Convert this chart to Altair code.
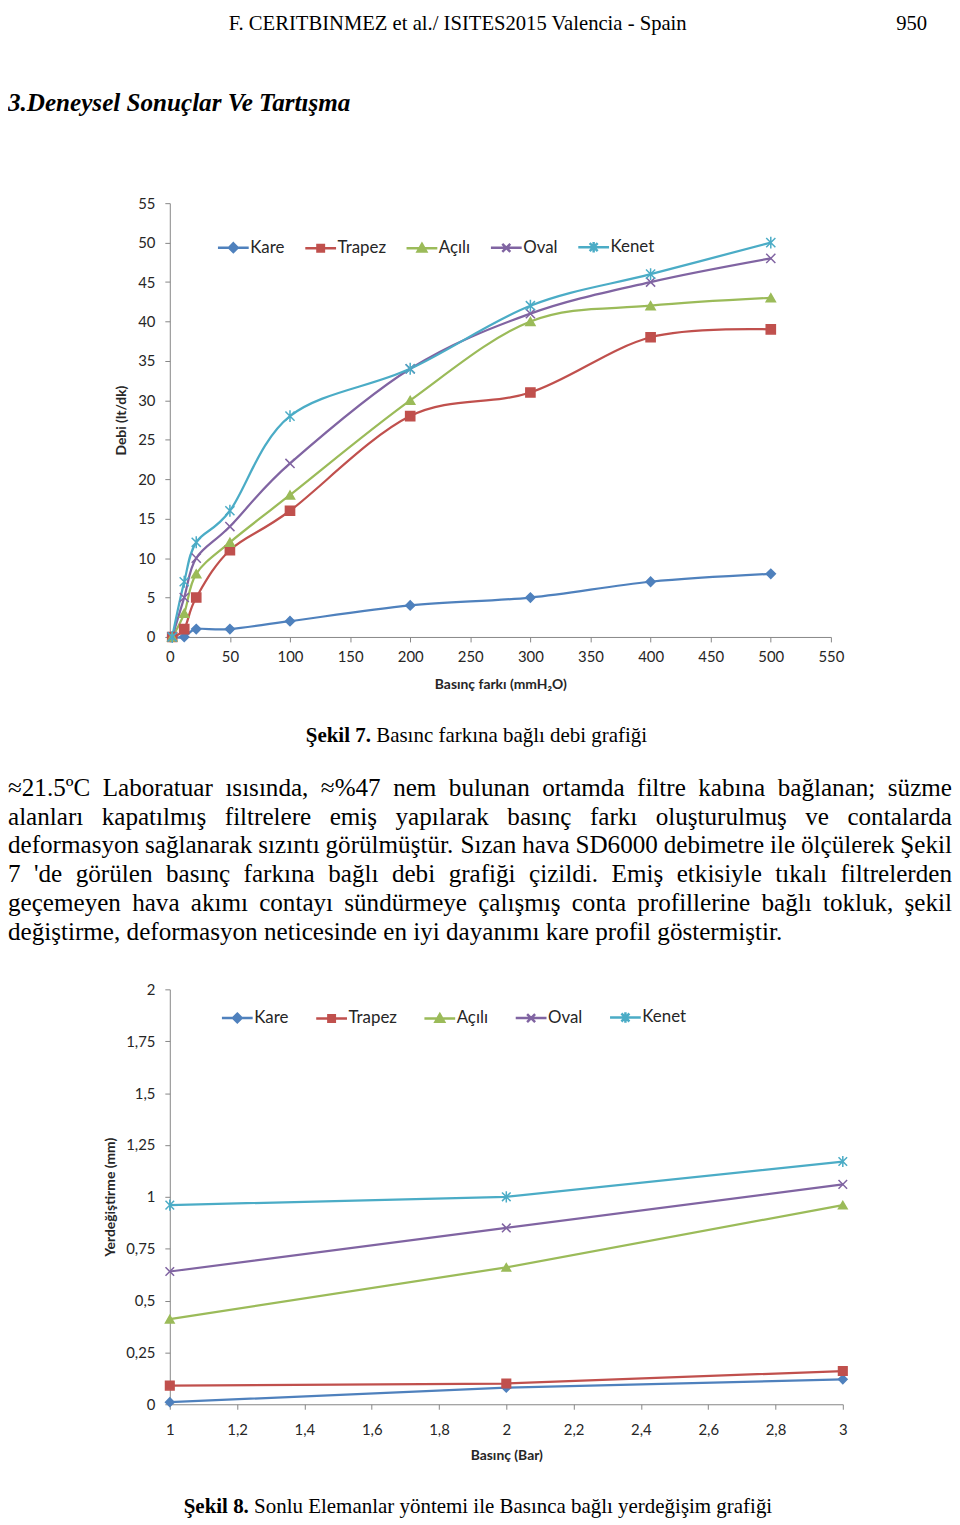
import altair as alt
import pandas as pd

# ---------------- data ----------------
series = ["Kare", "Trapez", "Açılı", "Oval", "Kenet"]
colors = ["#4F81BD", "#C0504D", "#9BBB59", "#8064A2", "#4BACC6"]

fig7_x = [2, 12, 22, 50, 100, 200, 300, 400, 500]
fig7_kare = [0, 0, 1, 1, 2, 4, 5, 7, 8]
fig7_trapez = [0, 1, 5, 11, 16, 28, 31, 38, 39]
fig7_acili = [0, 3, 8, 12, 18, 30, 40, 42, 43]
fig7_oval = [0, 5, 10, 14, 22, 34, 41, 45, 48]
fig7_kenet = [0, 7, 12, 16, 28, 34, 42, 46, 50]

fig8_x = [1, 2, 3]
fig8_kare = [0.01, 0.08, 0.12]
fig8_trapez = [0.09, 0.10, 0.16]
fig8_acili = [0.41, 0.66, 0.96]
fig8_oval = [0.64, 0.85, 1.06]
fig8_kenet = [0.96, 1.00, 1.17]

fig7_xticks = [0, 50, 100, 150, 200, 250, 300, 350, 400, 450, 500, 550]
fig7_yticks = [0, 5, 10, 15, 20, 25, 30, 35, 40, 45, 50, 55]
fig8_xticks = [1, 1.2, 1.4, 1.6, 1.8, 2, 2.2, 2.4, 2.6, 2.8, 3]
fig8_yticks = [0, 0.25, 0.5, 0.75, 1, 1.25, 1.5, 1.75, 2]

header_text = "F. CERITBINMEZ et al./ ISITES2015 Valencia - Spain"
page_number = "950"
section_title = "3.Deneysel Sonuçlar Ve Tartışma"
cap7_bold = "Şekil 7."
cap7_text = "Basınc farkına bağlı debi grafiği"
cap8_bold = "Şekil 8."
cap8_text = "Sonlu Elemanlar yöntemi ile Basınca bağlı yerdeğişim grafiği"
paragraph_lines = [
    "≈21.5ºC Laboratuar ısısında, ≈%47 nem bulunan ortamda filtre kabına bağlanan; süzme",
    "alanları kapatılmış filtrelere emiş yapılarak basınç farkı oluşturulmuş ve contalarda",
    "deformasyon sağlanarak sızıntı görülmüştür. Sızan hava SD6000 debimetre ile ölçülerek Şekil",
    "7 'de görülen basınç farkına bağlı debi grafiği çizildi. Emiş etkisiyle tıkalı filtrelerden",
    "geçemeyen hava akımı contayı sündürmeye çalışmış conta profillerine bağlı tokluk, şekil",
    "değiştirme, deformasyon neticesinde en iyi dayanımı kare profil göstermiştir.",
]

# ---------------- text metrics (Times-compatible widths / 1000 em) ----------------
TIMES = {}
for ch, w in zip("abcdefghijklmnopqrstuvwxyz",
                 [444, 500, 444, 500, 444, 333, 500, 500, 278, 278, 500, 278, 778,
                  500, 500, 500, 500, 333, 389, 278, 500, 500, 722, 500, 500, 444]):
    TIMES[ch] = w
for ch, w in zip("ABCDEFGHIJKLMNOPQRSTUVWXYZ",
                 [722, 667, 667, 722, 611, 556, 722, 722, 333, 389, 722, 611, 889,
                  722, 722, 556, 722, 667, 556, 611, 722, 722, 944, 722, 722, 611]):
    TIMES[ch] = w
for ch in "0123456789":
    TIMES[ch] = 500
TIMES.update({" ": 250, ".": 250, ",": 250, ";": 278, ":": 278, "'": 180, "%": 833,
              "≈": 549, "º": 310, "(": 333, ")": 333, "-": 333, "/": 278,
              "ı": 278, "ş": 389, "Ş": 556, "ğ": 500, "ç": 444, "Ç": 667,
              "ü": 500, "ö": 500, "İ": 333})
TIMES_BOLD = {"Ş": 556, "e": 444, "k": 556, "i": 278, "l": 278, " ": 250, ".": 250}


def text_width(s, fs, table=TIMES):
    return sum(table.get(c, 500) for c in s) * fs / 1000.0


# page positions of the figures' plot origins
O7 = (171, 199)
O8 = (171, 990)

PARA_FS = 25.3
CAP_FS = 21.1
HEAD_FS = 20.8
para_left, para_right = 8, 959
para_base0, para_step = 796, 29

word_rows = []
for i, line in enumerate(paragraph_lines):
    words = line.split(" ")
    widths = [text_width(w, PARA_FS) for w in words]
    if i < len(paragraph_lines) - 1:
        gap = (para_right - para_left - sum(widths)) / (len(words) - 1)
    else:
        gap = text_width(" ", PARA_FS)
    x = para_left
    for w, wd in zip(words, widths):
        word_rows.append({"t": w, "px": x - O7[0], "py": para_base0 + para_step * i - O7[1]})
        x += wd + gap
words_df = pd.DataFrame(word_rows)

bold_w = text_width(cap7_bold, CAP_FS, TIMES_BOLD)
space_cap = text_width(" ", CAP_FS)

cap7_x, cap7_base = 308, 742
cap8_x, cap8_base = 185, 1518

small7_df = pd.DataFrame([{"t": cap7_text, "px": cap7_x + bold_w + space_cap - O7[0],
                           "py": cap7_base - O7[1]}])
bold7_df = pd.DataFrame([{"t": cap7_bold, "px": cap7_x - O7[0], "py": cap7_base - O7[1]}])
header_df = pd.DataFrame([{"t": header_text, "px": 461 - O7[0], "py": 25 - O7[1]}])
pagenum_df = pd.DataFrame([{"t": page_number, "px": 934 - O7[0], "py": 25 - O7[1]}])
title_df = pd.DataFrame([{"t": section_title, "px": 8 - O7[0], "py": 106 - O7[1]}])
small8_df = pd.DataFrame([{"t": cap8_text, "px": cap8_x + bold_w + space_cap - O8[0],
                           "py": cap8_base - O8[1]}])
bold8_df = pd.DataFrame([{"t": cap8_bold, "px": cap8_x - O8[0], "py": cap8_base - O8[1]}])


def text_layer(df, size, weight="normal", style="normal", align="left"):
    return alt.Chart(df).mark_text(
        font="Liberation Serif", fontSize=size, fontWeight=weight, fontStyle=style,
        align=align, baseline="alphabetic", color="black"
    ).encode(
        x=alt.X("px:Q", scale=None, axis=None),
        y=alt.Y("py:Q", scale=None, axis=None),
        text="t:N",
    )


# ---------------- markers ----------------
plot_shapes = ["diamond", "square", "triangle-up",
               "M-1,-1L1,1M-1,1L1,-1",
               "M-1,-1L1,1M-1,1L1,-1M0,-1.3L0,1.3"]
legend_shapes = [
    "M-1,0L1,0M0,-0.28L0.28,0L0,0.28L-0.28,0Z",
    "M-1,0L1,0M-0.21,-0.21L0.21,-0.21L0.21,0.21L-0.21,0.21Z",
    "M-1,0L1,0M0,-0.28L0.28,0.21L-0.28,0.21Z",
    "M-1,0L1,0M-0.26,-0.26L0.26,0.26M-0.26,0.26L0.26,-0.26",
    "M-1,0L1,0M-0.26,-0.26L0.26,0.26M-0.26,0.26L0.26,-0.26M0,-0.34L0,0.34",
]


def series_frame(xs, ys_list):
    rows = []
    for s, ys in zip(series, ys_list):
        for x, y in zip(xs, ys):
            rows.append({"series": s, "x": x, "y": y})
    return pd.DataFrame(rows)


def panel(df, xdom, ydom, xticks, yticks, xtitle, ytitle, w, h, interp,
          legx, legy, colpad, comma, xlabpad, xtitpad, ytitpad, msize, texts):
    ax = dict(domainColor="#868686", tickColor="#868686", tickSize=5, grid=False,
              labelFont="Lato", labelFontSize=15, labelColor="#262626", labelFlush=False,
              titleFont="Lato", titleFontSize=14, titleFontWeight="bold",
              titleColor="#262626")
    if comma:
        ax["labelExpr"] = "replace(toString(datum.value), '.', ',')"
    xenc = alt.X("x:Q", scale=alt.Scale(domain=xdom, nice=False, zero=False),
                 axis=alt.Axis(values=xticks, title=xtitle, labelPadding=xlabpad,
                               titlePadding=xtitpad, **ax))
    yenc = alt.Y("y:Q", scale=alt.Scale(domain=ydom, nice=False, zero=False),
                 axis=alt.Axis(values=yticks, title=ytitle, labelPadding=10,
                               titlePadding=ytitpad, **ax))

    layers = []
    for s, shp, c in zip(series, plot_shapes, colors):
        sub = alt.Chart(df).transform_filter(alt.datum.series == s)
        layers.append(sub.mark_line(strokeWidth=2.25, interpolate=interp, color=c)
                      .encode(x=xenc, y=yenc))
    for s, shp, c in zip(series, plot_shapes, colors):
        sub = alt.Chart(df).transform_filter(alt.datum.series == s)
        layers.append(sub.mark_point(shape=shp, filled=True, size=msize, opacity=1,
                                     strokeWidth=1.5, fill=c, stroke=c)
                      .encode(x=xenc, y=yenc))
    leg = alt.Legend(title=None, orient="none", legendX=legx, legendY=legy,
                     direction="horizontal", symbolSize=961, symbolStrokeWidth=2.5,
                     labelFont="Lato", labelFontSize=17, labelColor="#262626",
                     labelOffset=0, columnPadding=colpad)
    legend_layer = alt.Chart(df).transform_filter("false").mark_point(
        filled=True, opacity=1, strokeWidth=2.5
    ).encode(
        fill=alt.Fill("series:N", scale=alt.Scale(domain=series, range=colors), legend=leg),
        stroke=alt.Stroke("series:N", scale=alt.Scale(domain=series, range=colors), legend=leg),
        shape=alt.Shape("series:N", scale=alt.Scale(domain=series, range=legend_shapes),
                        legend=leg),
    )
    inner = alt.layer(*layers, legend_layer)
    return alt.layer(inner, *texts).resolve_scale(x="independent", y="independent").properties(
        width=w, height=h)


df7 = series_frame(fig7_x, [fig7_kare, fig7_trapez, fig7_acili, fig7_oval, fig7_kenet])
df8 = series_frame(fig8_x, [fig8_kare, fig8_trapez, fig8_acili, fig8_oval, fig8_kenet])

texts7 = [
    text_layer(header_df, HEAD_FS, align="center"),
    text_layer(pagenum_df, HEAD_FS, align="right"),
    text_layer(title_df, PARA_FS, weight="bold", style="italic"),
    text_layer(bold7_df, CAP_FS, weight="bold"),
    text_layer(small7_df, CAP_FS),
    text_layer(words_df, PARA_FS),
]
texts8 = [
    text_layer(bold8_df, CAP_FS, weight="bold"),
    text_layer(small8_df, CAP_FS),
]

p7 = panel(df7, [0, 550], [0, 55], fig7_xticks, fig7_yticks,
           "Basınç farkı (mmH₂O)", "Debi (lt/dk)", 666, 437, "cardinal",
           47, 27, 15, False, 8, 13, 9, 85, texts7)
p8 = panel(df8, [1, 3], [0, 2], fig8_xticks, fig8_yticks,
           "Basınç (Bar)", "Yerdeğiştirme (mm)", 678, 418, "linear",
           51, 11, 22, True, 13, 12, 8, 75, texts8)

chart = alt.vconcat(p7, p8, spacing=355, bounds="flush").resolve_scale(
    fill="independent", stroke="independent", shape="independent"
).resolve_legend(
    fill="independent", stroke="independent", shape="independent"
).properties(
    padding=0, background="white"
).configure_view(stroke=None)

chart.save("out.html", embed_options={"renderer": "svg", "actions": False})
